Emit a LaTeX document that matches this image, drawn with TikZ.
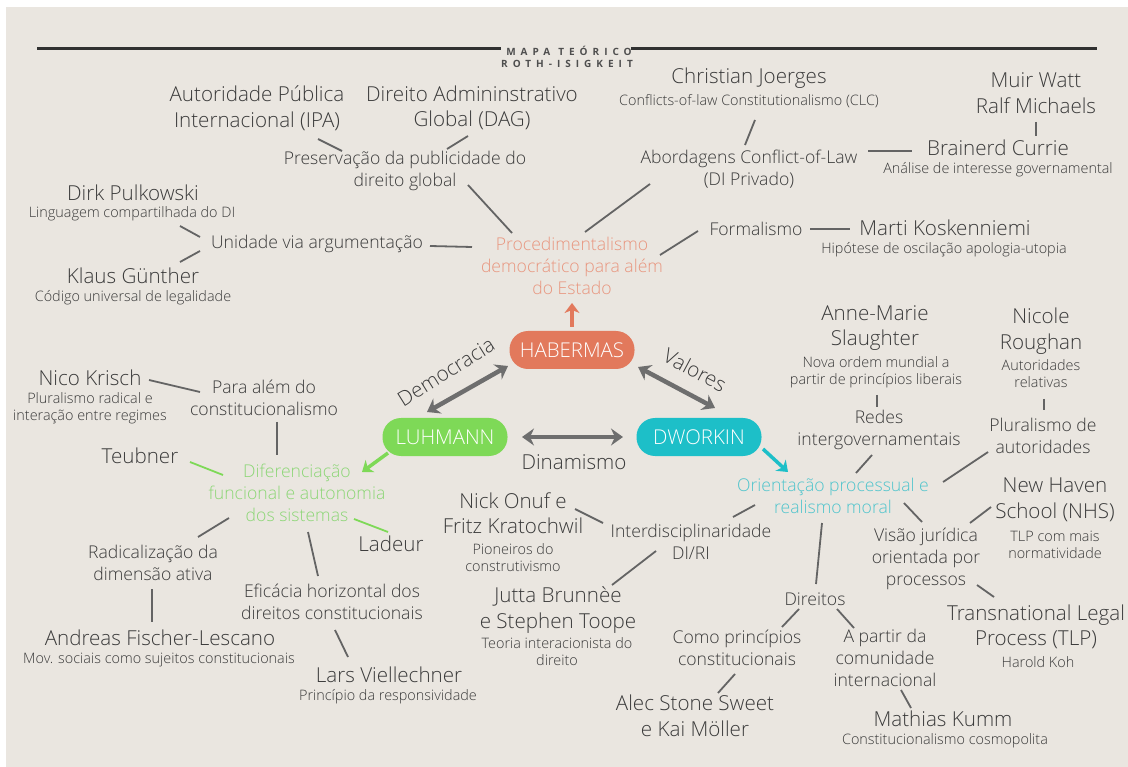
\documentclass[tikz,border=0pt]{standalone}
\usepackage{fontspec}
\IfFontExistsTF{Open Sans Light}{\setmainfont{Open Sans Light}}{\setmainfont{Open Sans}}
\newfontfamily\headfont{Open Sans}[LetterSpace=50]
\usetikzlibrary{arrows.meta}

\definecolor{paper}{RGB}{234,230,224}
\definecolor{ink}{RGB}{58,58,58}
\definecolor{linkgray}{RGB}{100,100,100}
\definecolor{arrowgray}{RGB}{110,110,110}
\definecolor{habcol}{RGB}{226,121,92}
\definecolor{habtext}{RGB}{232,150,127}
\definecolor{luhcol}{RGB}{126,217,87}
\definecolor{luhtext}{RGB}{140,214,118}
\definecolor{dwocol}{RGB}{29,191,200}
\definecolor{dwotext}{RGB}{79,196,204}

\begin{document}
\begin{tikzpicture}[x=1pt,y=-1pt,
  person/.style={font=\fontsize{20.6}{25.5}\selectfont,text=ink,align=center,inner sep=0pt},
  idea/.style={font=\fontsize{17.6}{22}\selectfont,text=ink,align=center,inner sep=0pt},
  remark/.style={font=\fontsize{14.4}{17}\selectfont,text=ink,align=center,inner sep=0pt},
  heading/.style={font=\headfont\bfseries\fontsize{10}{11}\selectfont,text=ink!90,inner sep=0pt},
  pill/.style={rounded corners=18.5pt,minimum width=125pt,minimum height=38pt,inner sep=0pt,
    text=white,font=\fontsize{20.4}{24}\selectfont},
  link/.style={line width=1.8pt,draw=linkgray},
  rule/.style={line width=3pt,draw=ink!85!black},
  dbl/.style={line width=4.5pt,draw=arrowgray,
    {Stealth[length=12pt,width=17pt,inset=4pt]}-{Stealth[length=12pt,width=17pt,inset=4pt]}},
  one/.style={line width=3.5pt,-{Stealth[length=10pt,width=15pt,inset=3pt]}},
]
  \useasboundingbox (0,0) rectangle (1128,767);
  \fill[white] (0,0) rectangle (1128,767);
  \fill[paper] (6,7) rectangle (1128,767);

  % heading
  \node[heading] (maptitle) at (569,51) {MAPA\hspace{8pt}TEÓRICO};
  \node[heading] (mapauthor) at (567,64) {ROTH-ISIGKEIT};
  \coordinate (ruleL) at (37,49);
  \coordinate (ruleR) at (1097,49);
  \draw[rule] (ruleL) -- ([xshift=-5pt]maptitle.west |- ruleL);
  \draw[rule] ([xshift=-1pt]maptitle.east |- ruleR) -- (ruleR);

  % the three authors
  \node[pill,fill=habcol] (habermas) at (572,350) {HABERMAS};
  \node[pill,fill=luhcol] (luhmann) at (445,437) {LUHMANN};
  \node[pill,fill=dwocol] (dworkin) at (699,437) {DWORKIN};

  \draw[dbl] ([shift={(-18,-25)}]luhmann.center) -- ([shift={(-64,16)}]habermas.center);
  \draw[dbl] ([shift={(66,17)}]habermas.center) -- ([shift={(16,-29)}]dworkin.center);
  \draw[dbl] ([shift={(77,0)}]luhmann.center) -- ([shift={(-76,0)}]dworkin.center);
  \node[person,rotate=32] (lbldem) at (446,372) {Democracia};
  \node[person,rotate=-28] (lblval) at (695,370) {Valores};
  \node[person] (lbldin) at (574,462) {Dinamismo};

  % Habermas side
  \node[idea,text=habtext] (proced) at (572,266) {Procedimentalismo\\democrático para além\\do Estado};
  \draw[one,draw=habcol] ([shift={(0,-23)}]habermas.center) -- ([shift={(0,37)}]proced.center);

  \node[person] (ipa) at (257,108) {Autoridade Pública\\Internacional (IPA)};
  \node[person] (dag) at (472,108) {Direito Admininstrativo\\Global (DAG)};
  \node[idea] (pres) at (405,171) {Preservação da publicidade do\\direito global};
  \node[person] (joerges) at (749,78) {Christian Joerges};
  \node[remark] (joergessub) at (749,101) {Conflicts-of-law Constitutionalismo (CLC)};
  \node[idea] (abord) at (749,169) {Abordagens Conflict-of-Law\\(DI Privado)};
  \node[person] (muir) at (1036,93) {Muir Watt\\Ralf Michaels};
  \node[person] (brainerd) at (998,148) {Brainerd Currie};
  \node[remark] (brainerdsub) at (998,170) {Análise de interesse governamental};
  \node[person] (dirk) at (133,193) {Dirk Pulkowski};
  \node[remark] (dirksub) at (132,214) {Linguagem compartilhada do DI};
  \node[idea] (unidade) at (317,244) {Unidade via argumentação};
  \node[person] (klaus) at (133,276) {Klaus Günther};
  \node[remark] (klaussub) at (133,298) {Código universal de legalidade};
  \node[idea] (formal) at (756,229) {Formalismo};
  \node[person] (marti) at (945,228) {Marti Koskenniemi};
  \node[remark] (martisub) at (944,250) {Hipótese de oscilação apologia-utopia};

  \draw[link] ([shift={(61,31)}]ipa.center) -- ([shift={(-63,-20)}]pres.center);
  \draw[link] ([shift={(-4,28)}]dag.center) -- ([shift={(42,-22)}]pres.center);
  \draw[link] ([shift={(63,14)}]pres.center) -- ([shift={(-60,-33)}]proced.center);
  \draw[link] ([shift={(6,19)}]joergessub.center) -- ([shift={(-4,-24)}]abord.center);
  \draw[link] ([shift={(-99,15)}]abord.center) -- ([shift={(13,-34)}]proced.center);
  \draw[link] ([shift={(119,-18)}]abord.center) -- ([shift={(-86,3)}]brainerd.center);
  \draw[link] ([shift={(0,29)}]muir.center) -- ([shift={(38,-12)}]brainerd.center);
  \draw[link] ([shift={(48,12)}]dirksub.center) -- ([shift={(-117,-7)}]unidade.center);
  \draw[link] ([shift={(47,-14)}]klaus.center) -- ([shift={(-117,7)}]unidade.center);
  \draw[link] ([shift={(113,2)}]unidade.center) -- ([shift={(-100,-19)}]proced.center);
  \draw[link] ([shift={(-58,2)}]formal.center) -- ([shift={(88,-11)}]proced.center);
  \draw[link] ([shift={(54,0)}]formal.center) -- ([shift={(-95,1)}]marti.center);

  % Luhmann side
  \node[idea,text=luhtext] (dif) at (297,493) {Diferenciação\\funcional e autonomia\\dos sistemas};
  \draw[one,draw=luhcol] ([shift={(-57,16)}]luhmann.center) -- ([shift={(65,-21)}]dif.center);

  \node[person] (nico) at (90,378) {Nico Krisch};
  \node[remark] (nicosub) at (90,408) {Pluralismo radical e\\interação entre regimes};
  \node[idea] (para) at (264,398) {Para além do\\constitucionalismo};
  \node[person] (teubner) at (140,456) {Teubner};
  \node[person] (ladeur) at (391,544) {Ladeur};
  \node[idea] (radical) at (153,563) {Radicalização da\\dimensão ativa};
  \node[person] (andreas) at (160,638) {Andreas Fischer-Lescano};
  \node[remark] (andreassub) at (159,660) {Mov. sociais como sujeitos constitucionais};
  \node[idea] (eficacia) at (332,602) {Eficácia horizontal dos\\direitos constitucionais};
  \node[person] (lars) at (389,675) {Lars Viellechner};
  \node[remark] (larssub) at (388,697) {Princípio da responsividade};

  \draw[link] ([shift={(59,2)}]nico.center) -- ([shift={(-64,-6)}]para.center);
  \draw[link] ([shift={(13,24)}]para.center) -- ([shift={(-20,-38)}]dif.center);
  \draw[link,draw=luhcol] ([shift={(50,6)}]teubner.center) -- ([shift={(-74,-18)}]dif.center);
  \draw[link,draw=luhcol] ([shift={(57,26)}]dif.center) -- ([shift={(-3,-12)}]ladeur.center);
  \draw[link] ([shift={(-68,25)}]dif.center) -- ([shift={(45,-26)}]radical.center);
  \draw[link] ([shift={(-1,26)}]radical.center) -- ([shift={(-8,-16)}]andreas.center);
  \draw[link] ([shift={(11,39)}]dif.center) -- ([shift={(-14,-26)}]eficacia.center);
  \draw[link] ([shift={(3,28)}]eficacia.center) -- ([shift={(-41,-18)}]lars.center);

  % Dworkin side
  \node[idea,text=dwotext] (orient) at (833,496) {Orientação processual e\\realismo moral};
  \draw[one,draw=dwocol] ([shift={(64,12)}]dworkin.center) -- ([shift={(-45,-24)}]orient.center);

  \node[person] (onuf) at (513,513) {Nick Onuf e\\Fritz Kratochwil};
  \node[remark] (onufsub) at (513,558) {Pioneiros do\\construtivismo};
  \node[idea] (interd) at (691,542) {Interdisciplinaridade\\DI/RI};
  \node[person] (jutta) at (558,610) {Jutta Brunnèe\\e Stephen Toope};
  \node[remark] (juttasub) at (557,652) {Teoria interacionista do\\direito};
  \node[person] (anne) at (875,328) {Anne-Marie\\Slaughter};
  \node[remark] (annesub) at (876,372) {Nova ordem mundial a\\partir de princípios liberais};
  \node[idea] (redes) at (879,430) {Redes\\intergovernamentais};
  \node[person] (nicole) at (1041,331) {Nicole\\Roughan};
  \node[remark] (nicolesub) at (1041,374) {Autoridades\\relativas};
  \node[idea] (plural) at (1043,436) {Pluralismo de\\autoridades};
  \node[person] (nhs) at (1055,500) {New Haven\\School (NHS)};
  \node[remark] (nhssub) at (1055,545) {TLP com mais\\normatividade};
  \node[idea] (visao) at (926,559) {Visão jurídica\\orientada por\\processos};
  \node[person] (tlp) at (1036,627) {Transnational Legal\\Process (TLP)};
  \node[remark] (tlpsub) at (1038,662) {Harold Koh};
  \node[idea] (direitos) at (815,599) {Direitos};
  \node[idea] (como) at (737,648) {Como princípios\\constitucionais};
  \node[idea] (apartir) at (885,658) {A partir da\\comunidade\\internacional};
  \node[person] (alec) at (695,716) {Alec Stone Sweet\\e Kai Möller};
  \node[person] (mathias) at (943,719) {Mathias Kumm};
  \node[remark] (mathiassub) at (945,741) {Constitucionalismo cosmopolita};

  \draw[link] ([shift={(62,-4)}]onuf.center) -- ([shift={(-88,-19)}]interd.center);
  \draw[link] ([shift={(-78,9)}]orient.center) -- ([shift={(42,-25)}]interd.center);
  \draw[link] ([shift={(-35,9)}]interd.center) -- ([shift={(54,-25)}]jutta.center);
  \draw[link] ([shift={(1,23)}]annesub.center) -- ([shift={(-2,-23)}]redes.center);
  \draw[link] ([shift={(-7,25)}]redes.center) -- ([shift={(23,-23)}]orient.center);
  \draw[link] ([shift={(3,25)}]nicolesub.center) -- ([shift={(1,-26)}]plural.center);
  \draw[link] ([shift={(-55,16)}]plural.center) -- ([shift={(110,-14)}]orient.center);
  \draw[link] ([shift={(71,7)}]orient.center) -- ([shift={(-4,-37)}]visao.center);
  \draw[link] ([shift={(-64,7)}]nhs.center) -- ([shift={(44,-36)}]visao.center);
  \draw[link] ([shift={(51,26)}]visao.center) -- ([shift={(-42,-30)}]tlp.center);
  \draw[link] ([shift={(-11,27)}]orient.center) -- ([shift={(1,-15)}]direitos.center);
  \draw[link] ([shift={(-16,10)}]direitos.center) -- ([shift={(45,-21)}]como.center);
  \draw[link] ([shift={(22,10)}]direitos.center) -- ([shift={(-31,-30)}]apartir.center);
  \draw[link] ([shift={(-2,26)}]como.center) -- ([shift={(23,-23)}]alec.center);
  \draw[link] ([shift={(16,32)}]apartir.center) -- ([shift={(-32,-11)}]mathias.center);
\end{tikzpicture}
\end{document}
